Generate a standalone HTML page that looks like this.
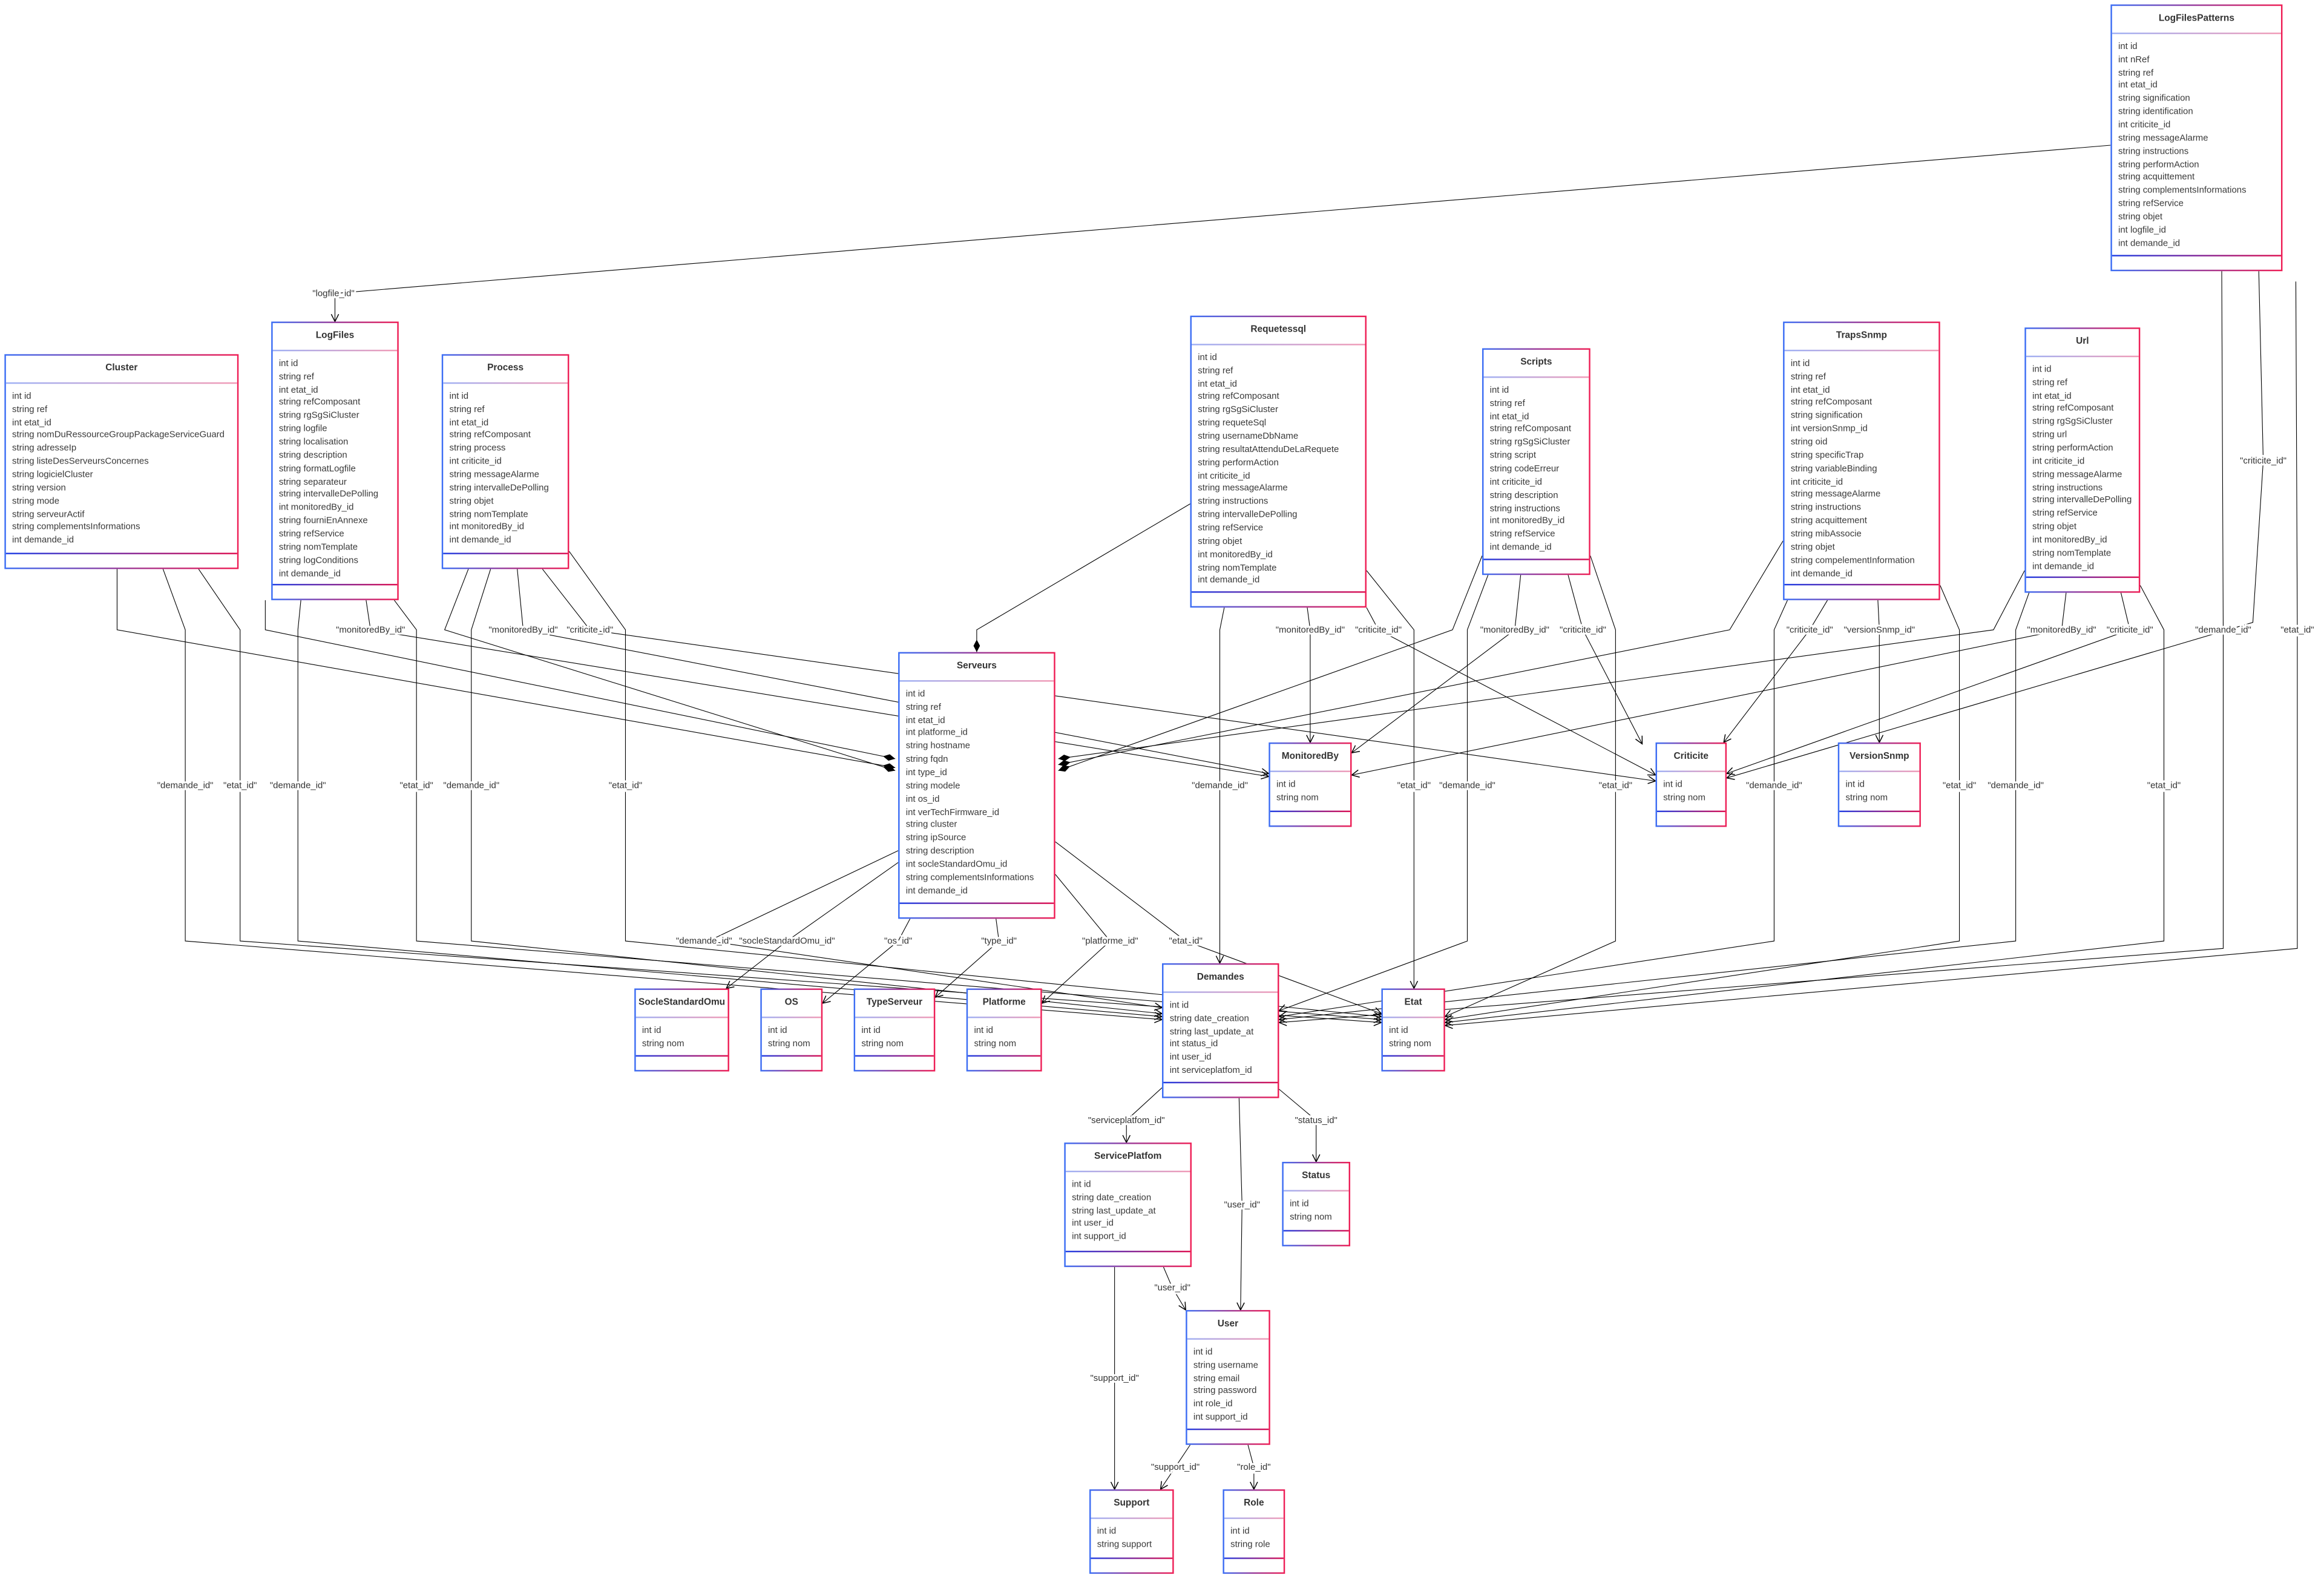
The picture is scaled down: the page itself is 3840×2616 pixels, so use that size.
<!DOCTYPE html>
<html><head><meta charset="utf-8">
<style>
html,body{margin:0;padding:0;background:#fff;}
body{width:3840px;height:2615px;overflow:hidden;position:relative;}
#c{position:absolute;left:0;top:0;width:1568px;height:1068px;transform:scale(2.44898);transform-origin:0 0;font-family:"Liberation Sans",Arial,sans-serif;}
svg{position:absolute;left:0;top:0;}
.b{position:absolute;padding:0.7px;background:linear-gradient(90deg,#3b6ef5,#9a3c9a 50%,#ef1e55);box-sizing:border-box;}
.i{background:#fff;width:100%;height:100%;display:flex;flex-direction:column;box-sizing:border-box;}
.h{height:18.3px;flex:none;display:flex;align-items:center;justify-content:center;font-weight:bold;font-size:6.3px;color:#333;border-bottom:0.7px solid #c08;border-image:linear-gradient(90deg,#9db0f5,#f29ab5) 1;}
.f{flex:1;padding:4.8px 4.5px 0;font-size:6.1px;line-height:8.86px;color:#3a3a3a;white-space:nowrap;}
.e{height:9.5px;flex:none;border-top:0.7px solid #c08;border-image:linear-gradient(90deg,#1e40e6,#e01050) 1;}
</style></head><body>
<div id="c">
<svg width="1568" height="1068" viewBox="0 0 1568 1068">
<defs>
<marker id="a" markerUnits="userSpaceOnUse" markerWidth="8" markerHeight="8" refX="5.5" refY="3" orient="auto"><path d="M0.5,0.5 L5.5,3 L0.5,5.5" fill="none" stroke="#000" stroke-width="0.6"/></marker>
<marker id="d" markerUnits="userSpaceOnUse" markerWidth="10" markerHeight="6" refX="0" refY="2.2" orient="auto"><path d="M0,2.2 L4.2,0 L8.4,2.2 L4.2,4.4 Z" fill="#000"/></marker>
</defs>
<g fill="none" stroke="#000" stroke-width="0.45">
<path d="M1424,98 L226,198 L226,217" marker-end="url(#a)"/>
<path d="M604,518 L79,425 L79,384" marker-start="url(#d)"/>
<path d="M110,384 L125,425 L125,635 L784,688" marker-end="url(#a)"/>
<path d="M134,384 L162,425 L162,635 L932,690" marker-end="url(#a)"/>
<path d="M604,512 L179,425 L179,405" marker-start="url(#d)"/>
<path d="M203,405 L201,425 L201,635 L784,686" marker-end="url(#a)"/>
<path d="M247,405 L250,425 L856,524" marker-end="url(#a)"/>
<path d="M266,405 L281,425 L281,635 L932,688" marker-end="url(#a)"/>
<path d="M604,520 L300,425 L316,384" marker-start="url(#d)"/>
<path d="M331,384 L318,425 L318,635 L784,684" marker-end="url(#a)"/>
<path d="M349,384 L353,425 L856,522" marker-end="url(#a)"/>
<path d="M366,384 L398,425 L1117,527" marker-end="url(#a)"/>
<path d="M384,372 L422,425 L422,635 L932,686" marker-end="url(#a)"/>
<path d="M659,440 L659,425 L803,340" marker-start="url(#d)"/>
<path d="M826,410 L823,425 L823,650" marker-end="url(#a)"/>
<path d="M882,410 L884,425 L884,501" marker-end="url(#a)"/>
<path d="M922,410 L930,425 L1117,523" marker-end="url(#a)"/>
<path d="M922,385 L954,425 L954,667" marker-end="url(#a)"/>
<path d="M714,520 L980,425 L1000,375" marker-start="url(#d)"/>
<path d="M1004,388 L990,425 L990,635 L863,682" marker-end="url(#a)"/>
<path d="M1026,388 L1022,425 L912,508" marker-end="url(#a)"/>
<path d="M1058,388 L1068,425 L1108,502" marker-end="url(#a)"/>
<path d="M1073,375 L1090,425 L1090,635 L975,686" marker-end="url(#a)"/>
<path d="M714,516 L1167,425 L1203,365" marker-start="url(#d)"/>
<path d="M1206,405 L1197,425 L1197,635 L863,686" marker-end="url(#a)"/>
<path d="M1233,405 L1221,425 L1163,501" marker-end="url(#a)"/>
<path d="M1267,405 L1268,425 L1268,501" marker-end="url(#a)"/>
<path d="M1309,395 L1322,425 L1322,635 L975,688" marker-end="url(#a)"/>
<path d="M714,512 L1345,425 L1366,385" marker-start="url(#d)"/>
<path d="M1369,400 L1360,425 L1360,635 L863,688" marker-end="url(#a)"/>
<path d="M1394,400 L1391,425 L912,523" marker-end="url(#a)"/>
<path d="M1431,400 L1437,425 L1165,522" marker-end="url(#a)"/>
<path d="M1444,395 L1460,425 L1460,635 L975,690" marker-end="url(#a)"/>
<path d="M1499,183 L1500,425 L1500,640 L863,690" marker-end="url(#a)"/>
<path d="M1524,183 L1527,311 L1520,420 L1165,525" marker-end="url(#a)"/>
<path d="M1549,190 L1550,425 L1550,640 L975,692" marker-end="url(#a)"/>
<path d="M606,574 L478,635 L784,680" marker-end="url(#a)"/>
<path d="M606,582 L531,635 L490,667" marker-end="url(#a)"/>
<path d="M614,620 L606,635 L555,677" marker-end="url(#a)"/>
<path d="M672,620 L674,635 L631,673" marker-end="url(#a)"/>
<path d="M712,590 L749,635 L703,677" marker-end="url(#a)"/>
<path d="M712,568 L800,635 L932,684" marker-end="url(#a)"/>
<path d="M784,734 L760,756 L760,771" marker-end="url(#a)"/>
<path d="M836,741 L838,813 L837,884" marker-end="url(#a)"/>
<path d="M863,735 L888,756 L888,784" marker-end="url(#a)"/>
<path d="M785,855 L791,869 L800,884" marker-end="url(#a)"/>
<path d="M752,855 L752,930 L752,1005" marker-end="url(#a)"/>
<path d="M803,975 L793,990 L783,1005" marker-end="url(#a)"/>
<path d="M842,975 L846,990 L846,1005" marker-end="url(#a)"/>
</g>
<g font-family="Liberation Sans, Arial, sans-serif" font-size="6.1" fill="#333" text-anchor="middle" dominant-baseline="central" stroke="#fff" stroke-width="2.6" paint-order="stroke">
<text x="225" y="198">"logfile_id"</text>
<text x="125" y="530">"demande_id"</text>
<text x="162" y="530">"etat_id"</text>
<text x="201" y="530">"demande_id"</text>
<text x="250" y="425">"monitoredBy_id"</text>
<text x="281" y="530">"etat_id"</text>
<text x="318" y="530">"demande_id"</text>
<text x="353" y="425">"monitoredBy_id"</text>
<text x="398" y="425">"criticite_id"</text>
<text x="422" y="530">"etat_id"</text>
<text x="823" y="530">"demande_id"</text>
<text x="884" y="425">"monitoredBy_id"</text>
<text x="930" y="425">"criticite_id"</text>
<text x="954" y="530">"etat_id"</text>
<text x="990" y="530">"demande_id"</text>
<text x="1022" y="425">"monitoredBy_id"</text>
<text x="1068" y="425">"criticite_id"</text>
<text x="1090" y="530">"etat_id"</text>
<text x="1197" y="530">"demande_id"</text>
<text x="1221" y="425">"criticite_id"</text>
<text x="1268" y="425">"versionSnmp_id"</text>
<text x="1322" y="530">"etat_id"</text>
<text x="1360" y="530">"demande_id"</text>
<text x="1391" y="425">"monitoredBy_id"</text>
<text x="1437" y="425">"criticite_id"</text>
<text x="1460" y="530">"etat_id"</text>
<text x="1500" y="425">"demande_id"</text>
<text x="1527" y="311">"criticite_id"</text>
<text x="1550" y="425">"etat_id"</text>
<text x="475" y="635">"demande_id"</text>
<text x="531" y="635">"socleStandardOmu_id"</text>
<text x="606" y="635">"os_id"</text>
<text x="674" y="635">"type_id"</text>
<text x="749" y="635">"platforme_id"</text>
<text x="800" y="635">"etat_id"</text>
<text x="760" y="756">"serviceplatfom_id"</text>
<text x="838" y="813">"user_id"</text>
<text x="888" y="756">"status_id"</text>
<text x="791" y="869">"user_id"</text>
<text x="752" y="930">"support_id"</text>
<text x="793" y="990">"support_id"</text>
<text x="846" y="990">"role_id"</text>
</g>
</svg>

<div class="b" style="left:1424px;top:3px;width:116px;height:180px"><div class="i"><div class="h">LogFilesPatterns</div><div class="f">int id<br>int nRef<br>string ref<br>int etat_id<br>string signification<br>string identification<br>int criticite_id<br>string messageAlarme<br>string instructions<br>string performAction<br>string acquittement<br>string complementsInformations<br>string refService<br>string objet<br>int logfile_id<br>int demande_id</div><div class="e"></div></div></div>

<div class="b" style="left:183px;top:217px;width:86px;height:188px"><div class="i"><div class="h">LogFiles</div><div class="f">int id<br>string ref<br>int etat_id<br>string refComposant<br>string rgSgSiCluster<br>string logfile<br>string localisation<br>string description<br>string formatLogfile<br>string separateur<br>string intervalleDePolling<br>int monitoredBy_id<br>string fourniEnAnnexe<br>string refService<br>string nomTemplate<br>string logConditions<br>int demande_id</div><div class="e"></div></div></div>

<div class="b" style="left:3px;top:239px;width:158px;height:145px"><div class="i"><div class="h">Cluster</div><div class="f">int id<br>string ref<br>int etat_id<br>string nomDuRessourceGroupPackageServiceGuard<br>string adresseIp<br>string listeDesServeursConcernes<br>string logicielCluster<br>string version<br>string mode<br>string serveurActif<br>string complementsInformations<br>int demande_id</div><div class="e"></div></div></div>

<div class="b" style="left:298px;top:239px;width:86px;height:145px"><div class="i"><div class="h">Process</div><div class="f">int id<br>string ref<br>int etat_id<br>string refComposant<br>string process<br>int criticite_id<br>string messageAlarme<br>string intervalleDePolling<br>string objet<br>string nomTemplate<br>int monitoredBy_id<br>int demande_id</div><div class="e"></div></div></div>

<div class="b" style="left:803px;top:213px;width:119px;height:197px"><div class="i"><div class="h">Requetessql</div><div class="f">int id<br>string ref<br>int etat_id<br>string refComposant<br>string rgSgSiCluster<br>string requeteSql<br>string usernameDbName<br>string resultatAttenduDeLaRequete<br>string performAction<br>int criticite_id<br>string messageAlarme<br>string instructions<br>string intervalleDePolling<br>string refService<br>string objet<br>int monitoredBy_id<br>string nomTemplate<br>int demande_id</div><div class="e"></div></div></div>

<div class="b" style="left:1000px;top:235px;width:73px;height:153px"><div class="i"><div class="h">Scripts</div><div class="f">int id<br>string ref<br>int etat_id<br>string refComposant<br>string rgSgSiCluster<br>string script<br>string codeErreur<br>int criticite_id<br>string description<br>string instructions<br>int monitoredBy_id<br>string refService<br>int demande_id</div><div class="e"></div></div></div>

<div class="b" style="left:1203px;top:217px;width:106px;height:188px"><div class="i"><div class="h">TrapsSnmp</div><div class="f">int id<br>string ref<br>int etat_id<br>string refComposant<br>string signification<br>int versionSnmp_id<br>string oid<br>string specificTrap<br>string variableBinding<br>int criticite_id<br>string messageAlarme<br>string instructions<br>string acquittement<br>string mibAssocie<br>string objet<br>string compelementInformation<br>int demande_id</div><div class="e"></div></div></div>

<div class="b" style="left:1366px;top:221px;width:78px;height:179px"><div class="i"><div class="h">Url</div><div class="f">int id<br>string ref<br>int etat_id<br>string refComposant<br>string rgSgSiCluster<br>string url<br>string performAction<br>int criticite_id<br>string messageAlarme<br>string instructions<br>string intervalleDePolling<br>string refService<br>string objet<br>int monitoredBy_id<br>string nomTemplate<br>int demande_id</div><div class="e"></div></div></div>

<div class="b" style="left:606px;top:440px;width:106px;height:180px"><div class="i"><div class="h">Serveurs</div><div class="f">int id<br>string ref<br>int etat_id<br>int platforme_id<br>string hostname<br>string fqdn<br>int type_id<br>string modele<br>int os_id<br>int verTechFirmware_id<br>string cluster<br>string ipSource<br>string description<br>int socleStandardOmu_id<br>string complementsInformations<br>int demande_id</div><div class="e"></div></div></div>

<div class="b" style="left:856px;top:501px;width:56px;height:57px"><div class="i"><div class="h">MonitoredBy</div><div class="f">int id<br>string nom</div><div class="e"></div></div></div>
<div class="b" style="left:1117px;top:501px;width:48px;height:57px"><div class="i"><div class="h">Criticite</div><div class="f">int id<br>string nom</div><div class="e"></div></div></div>
<div class="b" style="left:1240px;top:501px;width:56px;height:57px"><div class="i"><div class="h">VersionSnmp</div><div class="f">int id<br>string nom</div><div class="e"></div></div></div>
<div class="b" style="left:428px;top:667px;width:64px;height:56px"><div class="i"><div class="h">SocleStandardOmu</div><div class="f">int id<br>string nom</div><div class="e"></div></div></div>
<div class="b" style="left:513px;top:667px;width:42px;height:56px"><div class="i"><div class="h">OS</div><div class="f">int id<br>string nom</div><div class="e"></div></div></div>
<div class="b" style="left:576px;top:667px;width:55px;height:56px"><div class="i"><div class="h">TypeServeur</div><div class="f">int id<br>string nom</div><div class="e"></div></div></div>
<div class="b" style="left:652px;top:667px;width:51px;height:56px"><div class="i"><div class="h">Platforme</div><div class="f">int id<br>string nom</div><div class="e"></div></div></div>
<div class="b" style="left:932px;top:667px;width:43px;height:56px"><div class="i"><div class="h">Etat</div><div class="f">int id<br>string nom</div><div class="e"></div></div></div>

<div class="b" style="left:784px;top:650px;width:79px;height:91px"><div class="i"><div class="h">Demandes</div><div class="f">int id<br>string date_creation<br>string last_update_at<br>int status_id<br>int user_id<br>int serviceplatfom_id</div><div class="e"></div></div></div>

<div class="b" style="left:718px;top:771px;width:86px;height:84px"><div class="i"><div class="h">ServicePlatfom</div><div class="f">int id<br>string date_creation<br>string last_update_at<br>int user_id<br>int support_id</div><div class="e"></div></div></div>

<div class="b" style="left:865px;top:784px;width:46px;height:57px"><div class="i"><div class="h">Status</div><div class="f">int id<br>string nom</div><div class="e"></div></div></div>

<div class="b" style="left:800px;top:884px;width:57px;height:91px"><div class="i"><div class="h">User</div><div class="f">int id<br>string username<br>string email<br>string password<br>int role_id<br>int support_id</div><div class="e"></div></div></div>

<div class="b" style="left:735px;top:1005px;width:57px;height:57px"><div class="i"><div class="h">Support</div><div class="f">int id<br>string support</div><div class="e"></div></div></div>
<div class="b" style="left:825px;top:1005px;width:42px;height:57px"><div class="i"><div class="h">Role</div><div class="f">int id<br>string role</div><div class="e"></div></div></div>
</div>
</body></html>
